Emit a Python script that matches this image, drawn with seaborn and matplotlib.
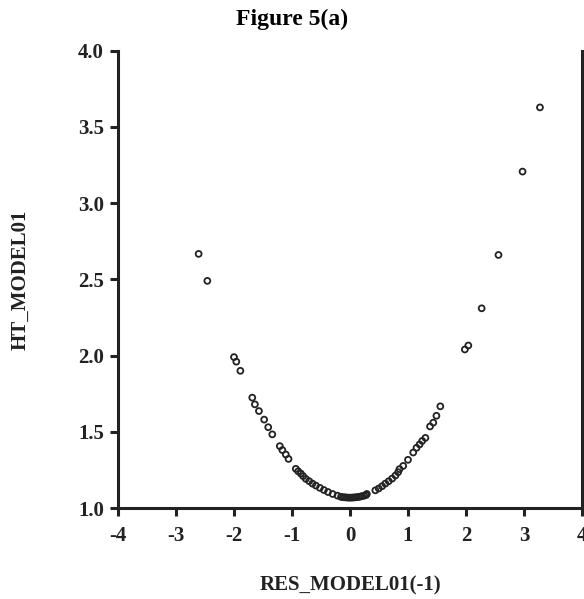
import matplotlib
matplotlib.use("Agg")
import matplotlib.pyplot as plt
import seaborn as sns
import pandas as pd

# Residual (lagged) values
res_lag = [
    -2.61, -2.46, -2.00, -1.96, -1.89, -1.685, -1.64, -1.57, -1.48, -1.41,
    -1.34, -1.21, -1.166, -1.107, -1.06, -0.934, -0.894, -0.848, -0.808, -0.761,
    -0.704, -0.647, -0.588, -0.519, -0.45, -0.38, -0.30, -0.215,
    -0.155, -0.12, -0.09, -0.06, -0.03, 0.0, 0.03, 0.06, 0.09, 0.12,
    0.15, 0.18, 0.21, 0.245, 0.277, 0.29,
    0.437, 0.495, 0.553, 0.61, 0.668, 0.727, 0.784, 0.83, 0.853, 0.917,
    1.00, 1.09, 1.147, 1.20, 1.245, 1.30, 1.38, 1.436, 1.49, 1.557,
    1.98, 2.04, 2.27, 2.56, 2.975, 3.275,
]
# Fitted HT values
ht_model = [
    2.667, 2.49, 1.99, 1.96, 1.90, 1.724, 1.68, 1.636, 1.58, 1.53,
    1.483, 1.406, 1.38, 1.351, 1.322, 1.257, 1.241, 1.226, 1.209, 1.191,
    1.176, 1.16, 1.147, 1.132, 1.118, 1.105, 1.092, 1.081,
    1.073, 1.071, 1.070, 1.069, 1.068, 1.068, 1.068, 1.069, 1.070, 1.071,
    1.073, 1.075, 1.078, 1.081, 1.085, 1.092,
    1.116, 1.128, 1.143, 1.16, 1.176, 1.193, 1.213, 1.235, 1.255, 1.276,
    1.316, 1.364, 1.395, 1.417, 1.44, 1.46, 1.535, 1.56, 1.605, 1.667,
    2.04, 2.066, 2.31, 2.66, 3.207, 3.628,
]
x_ticks = [-4, -3, -2, -1, 0, 1, 2, 3, 4]
y_ticks = [1.0, 1.5, 2.0, 2.5, 3.0, 3.5, 4.0]

df = pd.DataFrame({"RES_MODEL01(-1)": res_lag, "HT_MODEL01": ht_model})

sns.set_theme(style="ticks")
plt.rcParams["font.family"] = ["Liberation Serif", "DejaVu Serif"]
plt.rcParams["font.weight"] = "bold"

fig = plt.figure(figsize=(5.84, 5.99), dpi=100)
ax = fig.add_axes([118 / 584, 1 - 508 / 599, (582 - 118) / 584, (508 - 50.7) / 599])

ink = "#222222"
sns.scatterplot(data=df, x="RES_MODEL01(-1)", y="HT_MODEL01", ax=ax,
                marker="o", s=18, facecolor="none", edgecolor=ink,
                linewidth=1.3, zorder=3, clip_on=False)

ax.set_xlim(-4, 4)
ax.set_ylim(1.0, 4.0)
ax.set_xticks(x_ticks)
ax.set_xticklabels([str(t) for t in x_ticks])
ax.set_yticks(y_ticks)
ax.set_yticklabels([f"{t:.1f}" for t in y_ticks])

for side in ["left", "right", "bottom"]:
    ax.spines[side].set_visible(True)
    ax.spines[side].set_color(ink)
    ax.spines[side].set_linewidth(2.2)
ax.spines["top"].set_visible(False)

ax.tick_params(axis="both", direction="out", length=6, width=2.2, color=ink,
               labelsize=15, labelcolor=ink)
ax.tick_params(axis="x", pad=7)
ax.tick_params(axis="y", pad=4)
for lbl in ax.get_xticklabels() + ax.get_yticklabels():
    lbl.set_fontweight("bold")

ax.set_xlabel("RES_MODEL01(-1)", fontsize=15, fontweight="bold", color=ink, labelpad=21)
ax.set_ylabel("HT_MODEL01", fontsize=15, fontweight="bold", color=ink, labelpad=34)
fig.suptitle("Figure 5(a)", x=0.5, y=0.985, fontsize=17, fontweight="bold", color="black")

fig.savefig("out.png", dpi=100, facecolor="white")
